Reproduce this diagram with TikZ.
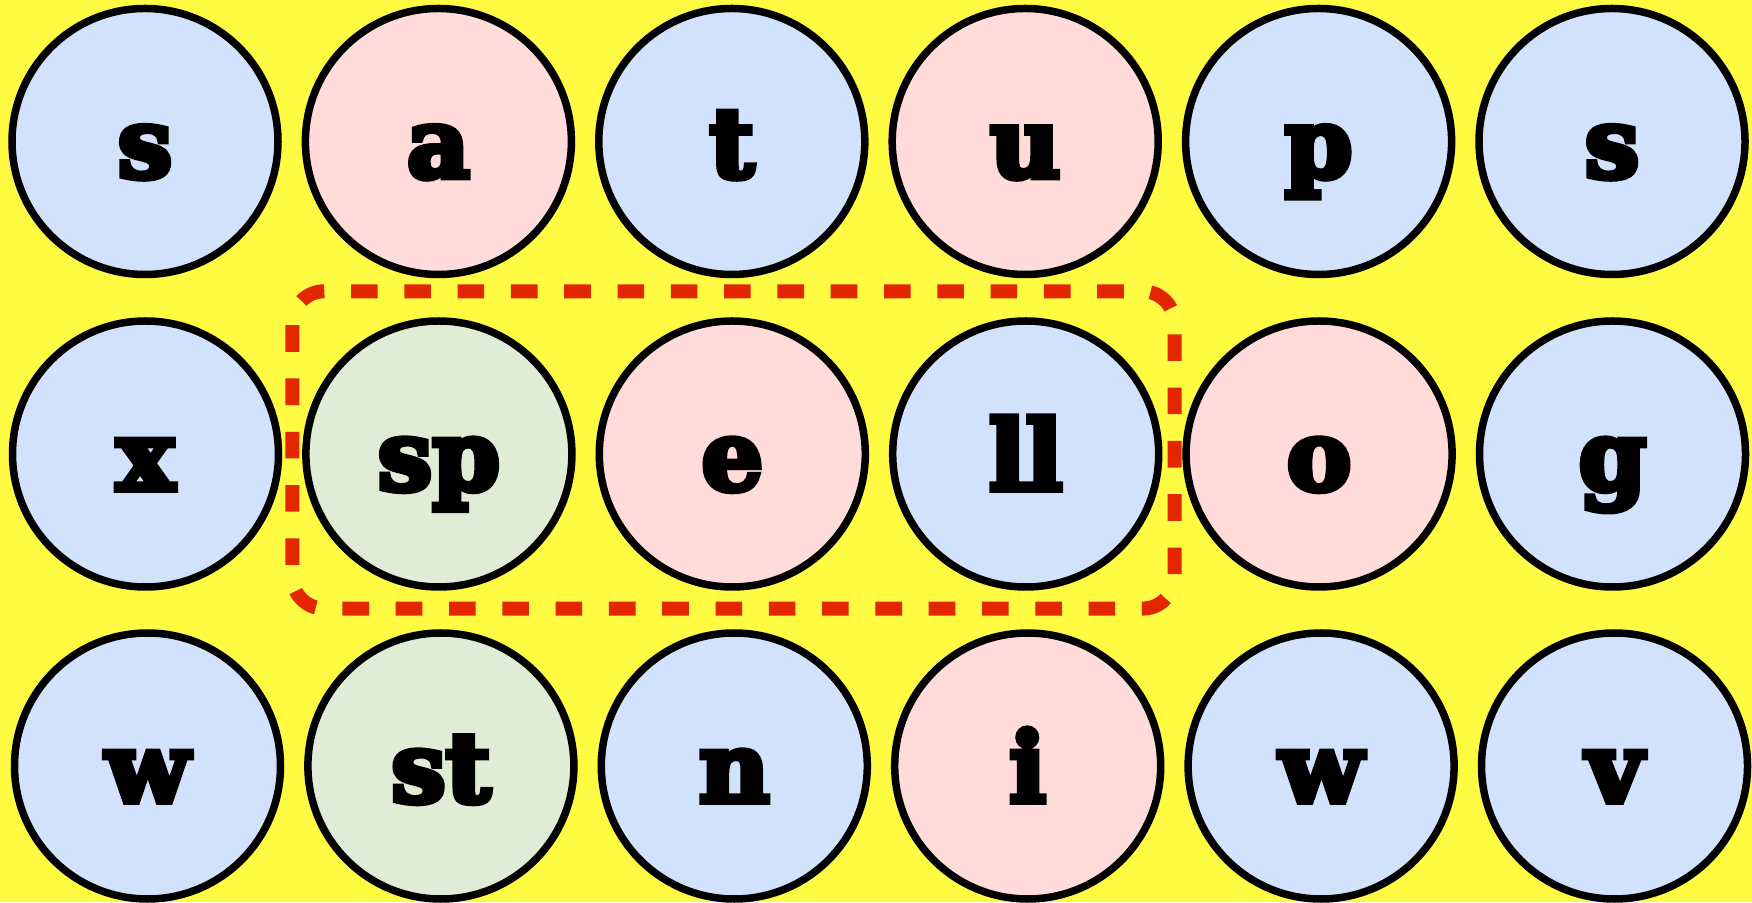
\documentclass[tikz,border=0pt]{standalone}
\usepackage{fontspec}
\newfontfamily\slab{DejaVu Serif}[UprightFont=* Bold, FakeBold=6]
\definecolor{bgyellow}{HTML}{FFFB42}
\definecolor{cblue}{HTML}{D3E2FC}
\definecolor{cpink}{HTML}{FFDBD9}
\definecolor{cgreen}{HTML}{E0ECD6}
\definecolor{cred}{HTML}{E22600}
\tikzset{
  ball/.style={circle, draw=black, line width=7.5pt, minimum size=266pt, inner sep=0pt,
    text height=72pt, text depth=0pt, font=\slab\fontsize{97}{97}\selectfont},
  bl/.style={ball, fill=cblue},
  pk/.style={ball, fill=cpink},
  gr/.style={ball, fill=cgreen},
  groupline/.style={draw=cred, line width=14pt, dash pattern=on 26.6pt off 26.7pt, dash phase=26.6pt}
}
\begin{document}
\begin{tikzpicture}[x=1pt,y=1pt]
\useasboundingbox (0,0) rectangle (1752,902);
\fill[bgyellow] (0,0) rectangle (1752,902);
% row 1
\node[bl] (a1) at (145.0,760.5) {s};
\node[pk] (a2) at (438.4,760.5) {a};
\node[bl] (a3) at (731.8,760.5) {t};
\node[pk] (a4) at (1025.2,760.5) {u};
\node[bl] (a5) at (1318.6,760.5) {p};
\node[bl] (a6) at (1612.0,760.5) {s};
% row 2
\node[bl] (b1) at (145.5,448) {x};
\node[gr] (b2) at (438.9,448) {sp};
\node[pk] (b3) at (732.3,448) {e};
\node[bl] (b4) at (1025.7,448) {ll};
\node[pk] (b5) at (1319.1,448) {o};
\node[bl] (b6) at (1612.5,448) {g};
% row 3
\node[bl] (c1) at (147.5,136) {w};
\node[gr] (c2) at (440.9,136) {st};
\node[bl] (c3) at (734.3,136) {n};
\node[pk] (c4) at (1027.7,136) {i};
\node[bl] (c5) at (1321.1,136) {w};
\node[bl] (c6) at (1614.5,136) {v};
% group outline
\draw[groupline] (324.3,610.7) -- (1142.5,610.7)
  arc[start angle=90,end angle=0,radius=32] -- (1174.5,325.4)
  arc[start angle=0,end angle=-90,radius=32] -- (324.3,293.4)
  arc[start angle=-90,end angle=-180,radius=32] -- (292.3,578.7)
  arc[start angle=180,end angle=90,radius=32] -- cycle;
\end{tikzpicture}
\end{document}
